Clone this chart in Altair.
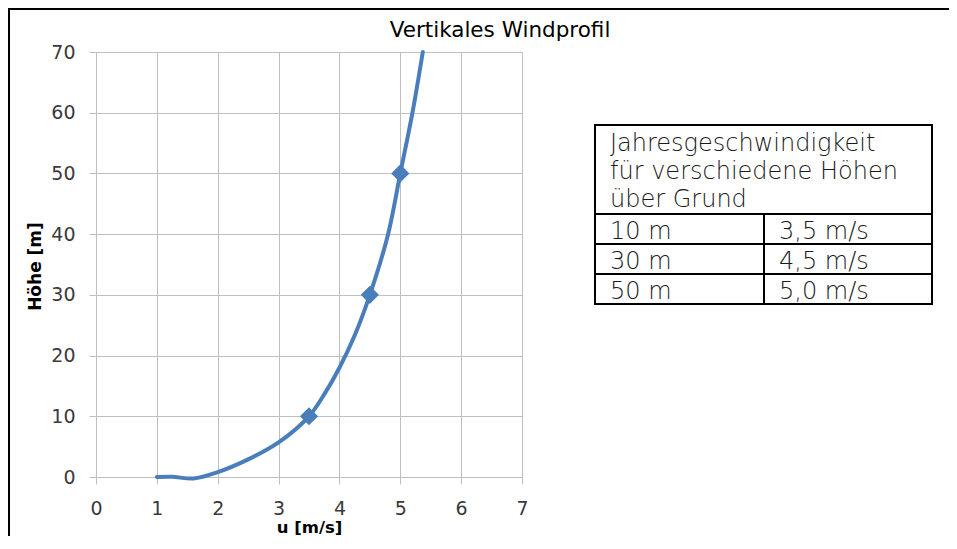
import altair as alt
import pandas as pd

# ---------------- data ----------------
# smoothed wind-profile curve (u in m/s, height in m)
curve_u = [1.0, 1.25, 1.6, 2.0, 2.5, 3.0, 3.5, 3.75, 4.0, 4.25, 4.5, 4.8, 5.0, 5.2, 5.37]
curve_h = [0.0, 0.05, -0.25, 0.8, 2.9, 5.7, 10.0, 13.6, 18.0, 23.3, 30.0, 40.0, 50.0, 60.0, 70.0]

# table values / marker points
table_heights = [10, 30, 50]
table_speeds = [3.5, 4.5, 5.0]
header_lines = ["Jahresgeschwindigkeit", "für verschiedene Höhen", "über Grund"]

x_ticks = [0, 1, 2, 3, 4, 5, 6, 7]
y_ticks = [0, 10, 20, 30, 40, 50, 60, 70]

chart_title = "Vertikales Windprofil"
x_title = "u [m/s]"
y_title = "Höhe [m]"

# ---------------- styling ----------------
BLUE = "#4a7ebb"
GRID = "#bfbfbf"
FONT = "DejaVu Sans"
W, H = 426, 425

curve_df = pd.DataFrame({"u": curve_u, "h": curve_h, "i": list(range(len(curve_u)))})
marker_df = pd.DataFrame({"u": table_speeds, "h": table_heights})

x_scale = alt.Scale(domain=[0, 7], nice=False, zero=False)
y_scale = alt.Scale(domain=[0, 70], nice=False, zero=False)

common_axis = dict(
    grid=True, gridColor=GRID, gridWidth=1,
    domainColor=GRID, tickColor=GRID, tickSize=7,
    labelFont=FONT, labelFontSize=19, labelColor="#3a3a3a",
    titleFont=FONT, titleFontWeight="bold", titleColor="#000000",
    format="d",
)

# titleX/titleY are relative to each axis group (x axis group sits at y = H)
x_axis = alt.Axis(values=x_ticks, title=x_title, labelPadding=15, labelFlush=False,
                  titleX=213, titleY=55, titleBaseline="alphabetic", titleAlign="center",
                  titleFontSize=16.5, **common_axis)
y_axis = alt.Axis(values=y_ticks, title=y_title, labelPadding=14,
                  titleX=-61, titleY=214, titleAngle=-90, titleBaseline="middle",
                  titleAlign="center", titleFontSize=17, **common_axis)

line = alt.Chart(curve_df).mark_line(
    interpolate="catmull-rom", color=BLUE, strokeWidth=4, strokeCap="round"
).encode(
    x=alt.X("u:Q", scale=x_scale, axis=x_axis),
    y=alt.Y("h:Q", scale=y_scale, axis=y_axis),
    order="i:Q",
)

markers = alt.Chart(marker_df).mark_point(
    shape="diamond", filled=True, size=330, color=BLUE, opacity=1
).encode(x="u:Q", y="h:Q")

one = alt.Data(values=[{"k": 0}])

# outer chart-area border (only top and left edges are inside the picture)
frame_top = alt.Chart(one).mark_rule(color="black", strokeWidth=2).encode(
    x=alt.value(-88), x2=alt.value(900), y=alt.value(-43)
)
frame_left = alt.Chart(one).mark_rule(color="black", strokeWidth=2).encode(
    x=alt.value(-87), y=alt.value(-44), y2=alt.value(600)
)

title_mark = alt.Chart(alt.Data(values=[{"t": chart_title}])).mark_text(
    align="center", baseline="alphabetic", font=FONT, fontSize=21.5, color="#000000"
).encode(x=alt.value(404), y=alt.value(-15), text="t:N")

tbl_box = alt.Chart(one).mark_rect(fill="white", stroke="black", strokeWidth=2).encode(
    x=alt.value(499), x2=alt.value(836), y=alt.value(73), y2=alt.value(252)
)

layers = [frame_top, frame_left, title_mark, line, markers, tbl_box]

for yy in [162, 192, 222]:
    layers.append(
        alt.Chart(one).mark_rule(color="black", strokeWidth=2).encode(
            x=alt.value(499), x2=alt.value(836), y=alt.value(yy)
        )
    )
layers.append(
    alt.Chart(one).mark_rule(color="black", strokeWidth=2).encode(
        x=alt.value(668), y=alt.value(162), y2=alt.value(252)
    )
)

text_style = dict(align="left", baseline="alphabetic", font=FONT, fontSize=24,
                  fontWeight=200, color="#1a1a1a")

for i, t in enumerate(header_lines):
    layers.append(
        alt.Chart(alt.Data(values=[{"t": t}])).mark_text(**text_style).encode(
            x=alt.value(514), y=alt.value(99 + 28 * i), text="t:N"
        )
    )

for i, (hh, ss) in enumerate(zip(table_heights, table_speeds)):
    left = f"{hh} m"
    right = f"{ss:.1f}".replace(".", ",") + " m/s"
    yb = 187 + 30 * i
    layers.append(
        alt.Chart(alt.Data(values=[{"t": left}])).mark_text(**text_style).encode(
            x=alt.value(514), y=alt.value(yb), text="t:N"
        )
    )
    layers.append(
        alt.Chart(alt.Data(values=[{"t": right}])).mark_text(**text_style).encode(
            x=alt.value(683), y=alt.value(yb), text="t:N"
        )
    )

chart = alt.layer(*layers).properties(
    width=W,
    height=H,
    autosize=alt.AutoSizeParams(type="none"),
    padding={"left": 88, "top": 44, "right": 427, "bottom": 59},
    background="white",
).configure_view(strokeWidth=0)

chart.save("out.html", embed_options={"renderer": "svg", "actions": False})
